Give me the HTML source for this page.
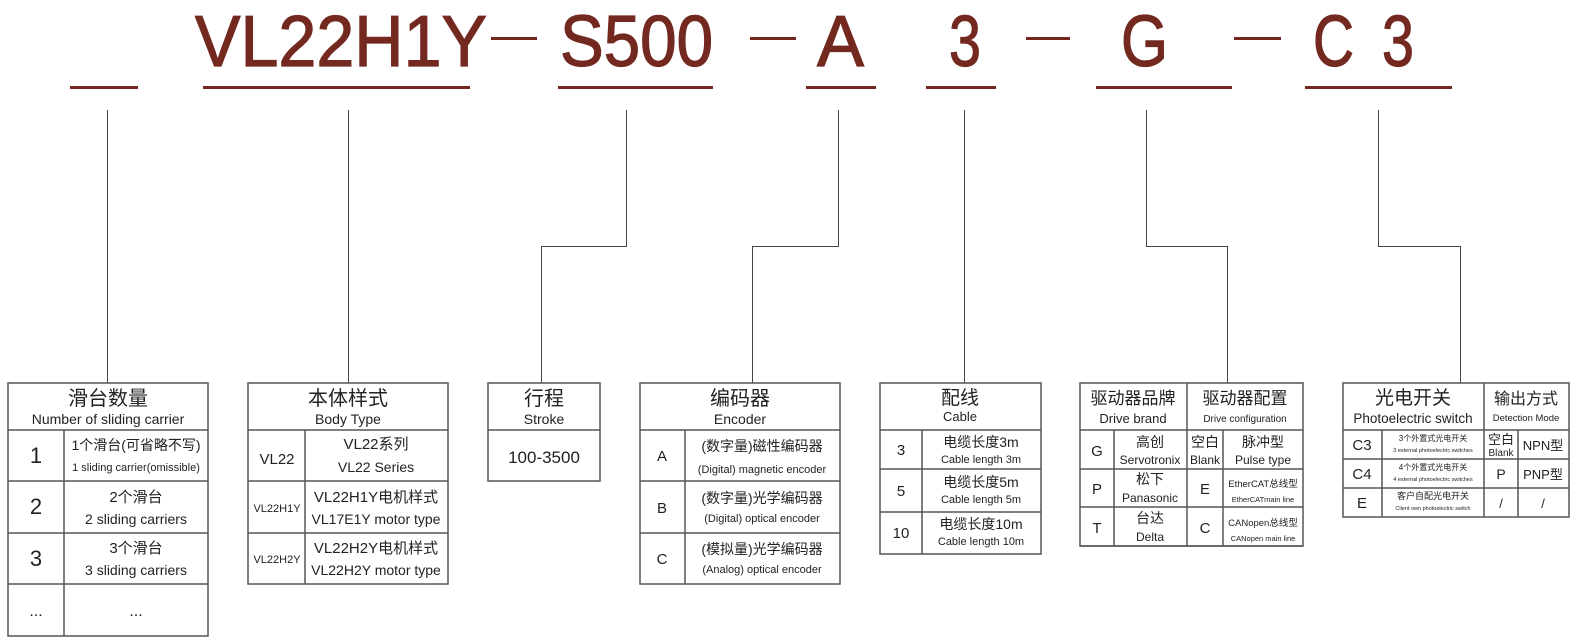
<!DOCTYPE html>
<html><head><meta charset="utf-8"><style>
html,body{margin:0;padding:0;background:#fff;}
svg{display:block;}
text{font-family:"Liberation Sans","Noto Sans CJK SC",sans-serif;fill:#222;}
.h{fill:#73291f;font-size:72px;stroke:#73291f;stroke-width:1.2px;}
</style></head><body>
<svg width="1576" height="640" viewBox="0 0 1576 640" xmlns="http://www.w3.org/2000/svg">
<g>
<text class="h" x="195" y="66" textLength="292" lengthAdjust="spacingAndGlyphs">VL22H1Y</text>
<text class="h" x="560" y="66" textLength="153" lengthAdjust="spacingAndGlyphs">S500</text>
<text class="h" x="817" y="66" textLength="47" lengthAdjust="spacingAndGlyphs">A</text>
<text class="h" x="949" y="66" textLength="32" lengthAdjust="spacingAndGlyphs">3</text>
<text class="h" x="1121" y="66" textLength="47" lengthAdjust="spacingAndGlyphs">G</text>
<text class="h" x="1313" y="66" textLength="41" lengthAdjust="spacingAndGlyphs">C</text>
<text class="h" x="1382" y="66" textLength="32" lengthAdjust="spacingAndGlyphs">3</text>
</g>
<g fill="#73291f">
<rect x="491" y="37" width="46" height="3"/>
<rect x="750" y="37" width="46" height="3"/>
<rect x="1026" y="37" width="44" height="3"/>
<rect x="1234" y="37" width="47" height="3"/>
<rect x="70" y="86" width="68" height="3"/>
<rect x="203" y="86" width="267" height="3"/>
<rect x="558" y="86" width="155" height="3"/>
<rect x="806" y="86" width="70" height="3"/>
<rect x="926" y="86" width="70" height="3"/>
<rect x="1096" y="86" width="136" height="3"/>
<rect x="1305" y="86" width="147" height="3"/>
</g>
<g stroke="#444" stroke-width="1" fill="none">
<path d="M107.5 110V383"/>
<path d="M348.5 110V383"/>
<path d="M626.5 110V246.5H541.5V383"/>
<path d="M838.5 110V246.5H752.5V383"/>
<path d="M964.5 110V383"/>
<path d="M1146.5 110V246.5H1227.5V383"/>
<path d="M1378.5 110V246.5H1460.5V383"/>
</g>
<g stroke="#555" stroke-width="1.5" fill="none">
<rect x="8" y="383" width="200" height="253"/>
<path d="M8 430H208M8 481H208M8 533H208M8 584H208M64 430V636"/>
<rect x="248" y="383" width="200" height="201"/>
<path d="M248 430H448M248 481H448M248 533H448M305 430V584"/>
<rect x="488" y="383" width="112" height="98"/>
<path d="M488 430H600"/>
<rect x="640" y="383" width="200" height="201"/>
<path d="M640 430H840M640 481H840M640 533H840M685 430V584"/>
<rect x="880" y="383" width="161" height="171"/>
<path d="M880 430H1041M880 469H1041M880 512H1041M922 430V554"/>
<rect x="1080" y="383" width="223" height="163"/>
<path d="M1080 430H1303M1080 469H1303M1080 507H1303M1080 546H1303M1114 430V546M1187 383V546M1223 430V546"/>
<rect x="1343" y="383" width="226" height="134"/>
<path d="M1343 430H1569M1343 459H1569M1343 488H1569M1382 430V517M1484 383V517M1518 430V517"/>
</g>
<g text-anchor="middle">
<text x="108" y="405" font-size="20">滑台数量</text>
<text x="108" y="424" font-size="14">Number of sliding carrier</text>
<text x="36" y="463" font-size="22">1</text>
<text x="136" y="450" font-size="14">1个滑台(可省略不写)</text>
<text x="136" y="471" font-size="11">1 sliding carrier(omissible)</text>
<text x="36" y="514" font-size="22">2</text>
<text x="136" y="502" font-size="15">2个滑台</text>
<text x="136" y="524" font-size="14">2 sliding carriers</text>
<text x="36" y="566" font-size="22">3</text>
<text x="136" y="553" font-size="15">3个滑台</text>
<text x="136" y="575" font-size="14">3 sliding carriers</text>
<text x="36" y="616" font-size="16">...</text>
<text x="136" y="616" font-size="16">...</text>
<text x="348" y="405" font-size="20">本体样式</text>
<text x="348" y="424" font-size="14">Body Type</text>
<text x="277" y="464" font-size="15">VL22</text>
<text x="376" y="449" font-size="15">VL22系列</text>
<text x="376" y="472" font-size="14">VL22 Series</text>
<text x="277" y="512" font-size="11">VL22H1Y</text>
<text x="376" y="502" font-size="15">VL22H1Y电机样式</text>
<text x="376" y="524" font-size="14">VL17E1Y motor type</text>
<text x="277" y="563" font-size="11">VL22H2Y</text>
<text x="376" y="553" font-size="15">VL22H2Y电机样式</text>
<text x="376" y="575" font-size="14">VL22H2Y motor type</text>
<text x="544" y="405" font-size="20">行程</text>
<text x="544" y="424" font-size="14">Stroke</text>
<text x="544" y="463" font-size="17">100-3500</text>
<text x="740" y="405" font-size="20">编码器</text>
<text x="740" y="424" font-size="14">Encoder</text>
<text x="662" y="461" font-size="15">A</text>
<text x="762" y="451" font-size="14">(数字量)磁性编码器</text>
<text x="762" y="473" font-size="11">(Digital) magnetic encoder</text>
<text x="662" y="513" font-size="15">B</text>
<text x="762" y="503" font-size="14">(数字量)光学编码器</text>
<text x="762" y="522" font-size="11">(Digital) optical encoder</text>
<text x="662" y="564" font-size="15">C</text>
<text x="762" y="554" font-size="14">(模拟量)光学编码器</text>
<text x="762" y="573" font-size="11">(Analog) optical encoder</text>
<text x="960" y="404" font-size="19">配线</text>
<text x="960" y="421" font-size="13">Cable</text>
<text x="901" y="455" font-size="15">3</text>
<text x="981" y="447" font-size="14">电缆长度3m</text>
<text x="981" y="463" font-size="11">Cable length 3m</text>
<text x="901" y="496" font-size="15">5</text>
<text x="981" y="487" font-size="14">电缆长度5m</text>
<text x="981" y="503" font-size="11">Cable length 5m</text>
<text x="901" y="538" font-size="15">10</text>
<text x="981" y="529" font-size="14">电缆长度10m</text>
<text x="981" y="545" font-size="11">Cable length 10m</text>
<text x="1133" y="404" font-size="17">驱动器品牌</text>
<text x="1133" y="423" font-size="13">Drive brand</text>
<text x="1245" y="404" font-size="17">驱动器配置</text>
<text x="1245" y="422" font-size="10">Drive configuration</text>
<text x="1097" y="456" font-size="15">G</text>
<text x="1150" y="447" font-size="14">高创</text>
<text x="1150" y="464" font-size="12">Servotronix</text>
<text x="1205" y="447" font-size="14">空白</text>
<text x="1205" y="464" font-size="12">Blank</text>
<text x="1263" y="447" font-size="14">脉冲型</text>
<text x="1263" y="464" font-size="12">Pulse type</text>
<text x="1097" y="494" font-size="15">P</text>
<text x="1150" y="484" font-size="14">松下</text>
<text x="1150" y="502" font-size="12">Panasonic</text>
<text x="1205" y="494" font-size="15">E</text>
<text x="1263" y="487" font-size="9.5">EtherCAT总线型</text>
<text x="1263" y="502" font-size="7.5">EtherCATmain line</text>
<text x="1097" y="533" font-size="15">T</text>
<text x="1150" y="523" font-size="14">台达</text>
<text x="1150" y="541" font-size="12">Delta</text>
<text x="1205" y="533" font-size="15">C</text>
<text x="1263" y="526" font-size="9.5">CANopen总线型</text>
<text x="1263" y="541" font-size="7.5">CANopen main line</text>
<text x="1413" y="404" font-size="19">光电开关</text>
<text x="1413" y="423" font-size="13.5">Photoelectric switch</text>
<text x="1526" y="404" font-size="16">输出方式</text>
<text x="1526" y="421" font-size="9.5">Detection Mode</text>
<text x="1362" y="450" font-size="15">C3</text>
<text x="1433" y="441" font-size="8">3个外置式光电开关</text>
<text x="1433" y="452" font-size="5.5">3 external photoelectric switches</text>
<text x="1501" y="444" font-size="13">空白</text>
<text x="1501" y="456" font-size="10">Blank</text>
<text x="1543" y="450" font-size="13">NPN型</text>
<text x="1362" y="479" font-size="15">C4</text>
<text x="1433" y="470" font-size="8">4个外置式光电开关</text>
<text x="1433" y="481" font-size="5.5">4 external photoelectric switches</text>
<text x="1501" y="479" font-size="14">P</text>
<text x="1543" y="479" font-size="13">PNP型</text>
<text x="1362" y="508" font-size="15">E</text>
<text x="1433" y="499" font-size="9">客户自配光电开关</text>
<text x="1433" y="510" font-size="5.5">Client own photoelectric switch</text>
<text x="1501" y="508" font-size="13">/</text>
<text x="1543" y="508" font-size="13">/</text>
</g>
</svg>
</body></html>
